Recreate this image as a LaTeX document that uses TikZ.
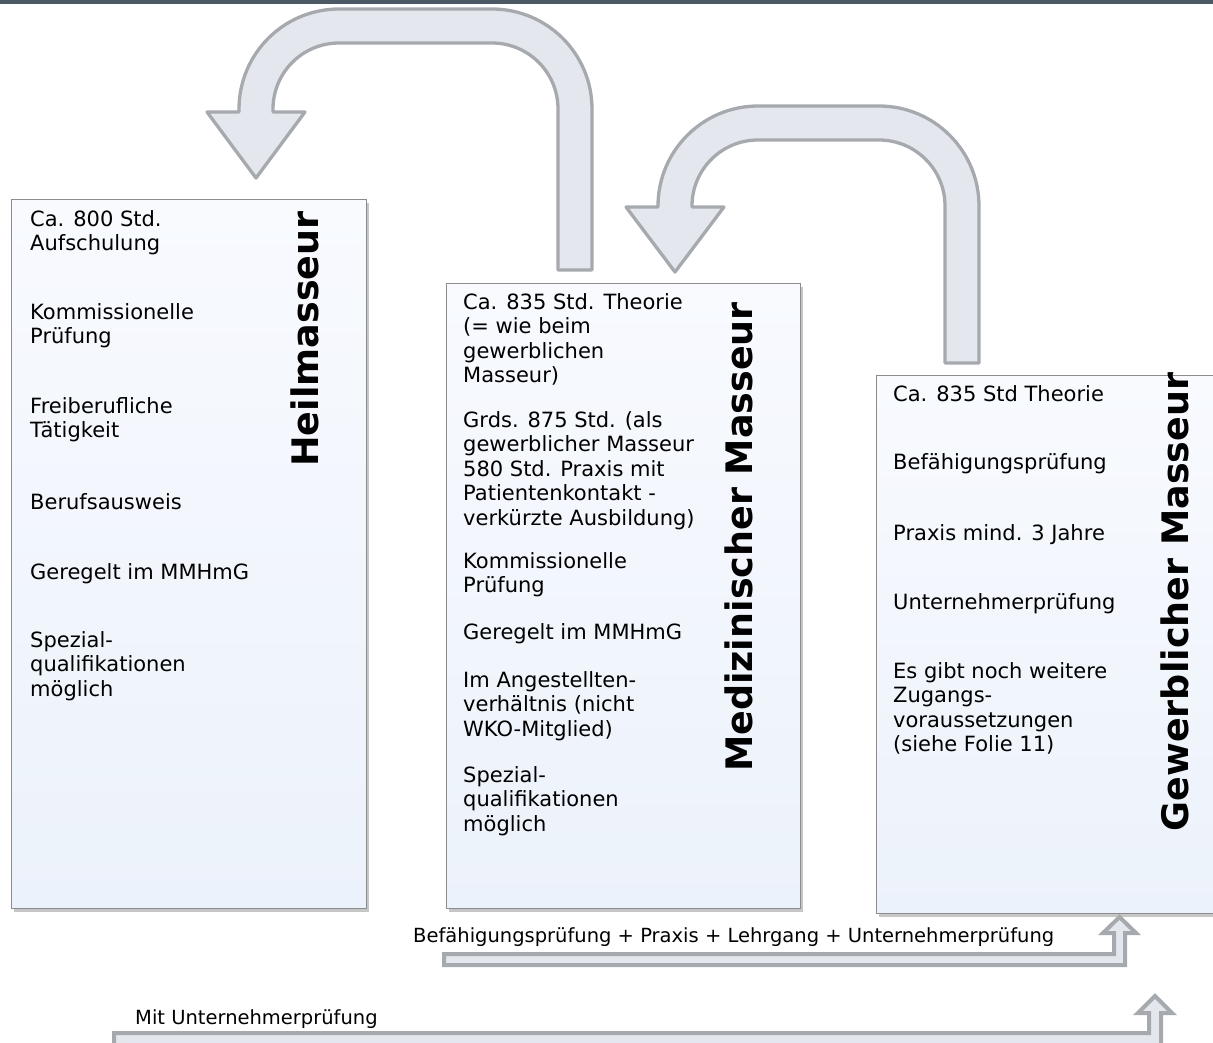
\documentclass[tikz,border=0pt]{standalone}
\usepackage{fontspec}
\setmainfont{DejaVu Sans}
\usetikzlibrary{shadows}

\definecolor{kopfbalken}{HTML}{4C5A66}
\definecolor{rahmen}{HTML}{8C8C8C}
\definecolor{kastenoben}{HTML}{F8FAFE}
\definecolor{kastenunten}{HTML}{ECF2FB}
\definecolor{pfeilrand}{HTML}{A6A9AE}
\definecolor{pfeilfuell}{HTML}{E4E7EE}

% Textblock, Grundlinie = erste Zeile
\newcommand{\Block}[1]{\begin{tabular}[t]{@{}l@{}}#1\end{tabular}}

% Kehrpfeil: #1 x linker Schenkel, #2 x rechter Schenkel, #3 y oben,
% #4 y unten, #5 y Spitzenansatz, #6 y Spitze
\def\Rad{100}
\def\Brt{17}
\newcommand{\Kehrpfeil}[6]{%
  \draw[pfeil] ({#2+\Brt},#4) -- ({#2+\Brt},{#3+\Rad})
    arc[start angle=0,end angle=-90,radius=\Rad] -- ({#1-\Brt+\Rad},#3)
    arc[start angle=-90,end angle=-180,radius=\Rad] -- ({#1-\Brt},#5)
    -- ({#1-49},#5) -- (#1,#6) -- ({#1+49},#5) -- ({#1+\Brt},#5)
    -- ({#1+\Brt},{#3+\Rad})
    arc[start angle=180,end angle=270,radius={\Rad-2*\Brt}] -- ({#2-\Brt-\Rad+2*\Brt},{#3+2*\Brt})
    arc[start angle=270,end angle=360,radius={\Rad-2*\Brt}] -- ({#2-\Brt},#4) -- cycle;}

\begin{document}
\begin{tikzpicture}[x=1pt,y=-1pt]
% Styles
\tikzset{
  kasten/.style={draw=rahmen, line width=1.2pt, top color=kastenoben,
    bottom color=kastenunten, anchor=north west, inner sep=0pt,
    drop shadow={shadow xshift=2.5pt, shadow yshift=-3pt, opacity=0.45}},
  titel/.style={rotate=90, anchor=base, inner sep=0pt,
    font=\fontsize{36.5}{42}\selectfont\bfseries},
  punkt/.style={anchor=base west, inner sep=0pt,
    font=\fontsize{21}{24.5}\selectfont},
  notiz/.style={anchor=base west, inner sep=0pt,
    font=\fontsize{19.5}{23}\selectfont},
  pfeil/.style={draw=pfeilrand, fill=pfeilfuell, line width=3.3pt, line join=round},
  weg/.style={draw=pfeilrand, fill=pfeilfuell, line width=4pt, line join=miter}
}
\useasboundingbox (0,0) rectangle (1213,1042);
\fill[kopfbalken] (0,0) rectangle (1213,3.5);

% Kaesten
\node[kasten, minimum width=355pt, minimum height=709pt] (heil) at (11,199) {};
\node[kasten, minimum width=354pt, minimum height=625pt] (medi) at (446,283) {};
\node[kasten, minimum width=354pt, minimum height=538pt] (gewe) at (876,375) {};

% Titel
\node[titel] (theil) at (318,339) {Heilmasseur};
\node[titel] (tmedi) at (752,537) {Medizinischer Masseur};
\node[titel] (tgewe) at (1188,602) {Gewerblicher Masseur};

% Heilmasseur
\node[punkt] (h1) at (30,226) {\Block{Ca. 800 Std.\\Aufschulung}};
\node[punkt] (h2) at (30,319) {\Block{Kommissionelle\\Prüfung}};
\node[punkt] (h3) at (30,413) {\Block{Freiberufliche\\Tätigkeit}};
\node[punkt] (h4) at (30,509) {Berufsausweis};
\node[punkt] (h5) at (30,579) {Geregelt im MMHmG};
\node[punkt] (h6) at (30,647) {\Block{Spezial-\\qualifikationen\\möglich}};

% Medizinischer Masseur
\node[punkt] (m1) at (463,309) {\Block{Ca. 835 Std. Theorie\\(= wie beim\\gewerblichen\\Masseur)}};
\node[punkt] (m2) at (463,427) {\Block{Grds. 875 Std. (als\\gewerblicher Masseur\\580 Std. Praxis mit\\Patientenkontakt -\\verkürzte Ausbildung)}};
\node[punkt] (m3) at (463,568) {\Block{Kommissionelle\\Prüfung}};
\node[punkt] (m4) at (463,639) {Geregelt im MMHmG};
\node[punkt] (m5) at (463,687) {\Block{Im Angestellten-\\verhältnis (nicht\\WKO-Mitglied)}};
\node[punkt] (m6) at (463,782) {\Block{Spezial-\\qualifikationen\\möglich}};

% Gewerblicher Masseur
\node[punkt] (g1) at (893,401) {Ca. 835 Std Theorie};
\node[punkt] (g2) at (893,469) {Befähigungsprüfung};
\node[punkt] (g3) at (893,540) {Praxis mind. 3 Jahre};
\node[punkt] (g4) at (893,609) {Unternehmerprüfung};
\node[punkt] (g5) at (893,678) {\Block{Es gibt noch weitere\\Zugangs-\\voraussetzungen\\(siehe Folie 11)}};

% Kehrpfeile oben
\Kehrpfeil{256}{575}{9}{270}{112}{178}
\Kehrpfeil{675}{962}{106}{363}{207}{272}

% Wege unten
\draw[weg] (444,954) -- (1114,954) -- (1114,933) -- (1103,933) -- (1119.5,917)
  -- (1136,933) -- (1125,933) -- (1125,965) -- (444,965) -- cycle;
\draw[weg] (114,1033) -- (1149,1033) -- (1149,1013) -- (1138,1013) -- (1155,996)
  -- (1172,1013) -- (1161,1013) -- (1161,1050) -- (114,1050) -- cycle;
\node[notiz] (lweg) at (413,942) {Befähigungsprüfung + Praxis + Lehrgang + Unternehmerprüfung};
\node[notiz] (kweg) at (135,1024) {Mit Unternehmerprüfung};
\end{tikzpicture}
\end{document}
